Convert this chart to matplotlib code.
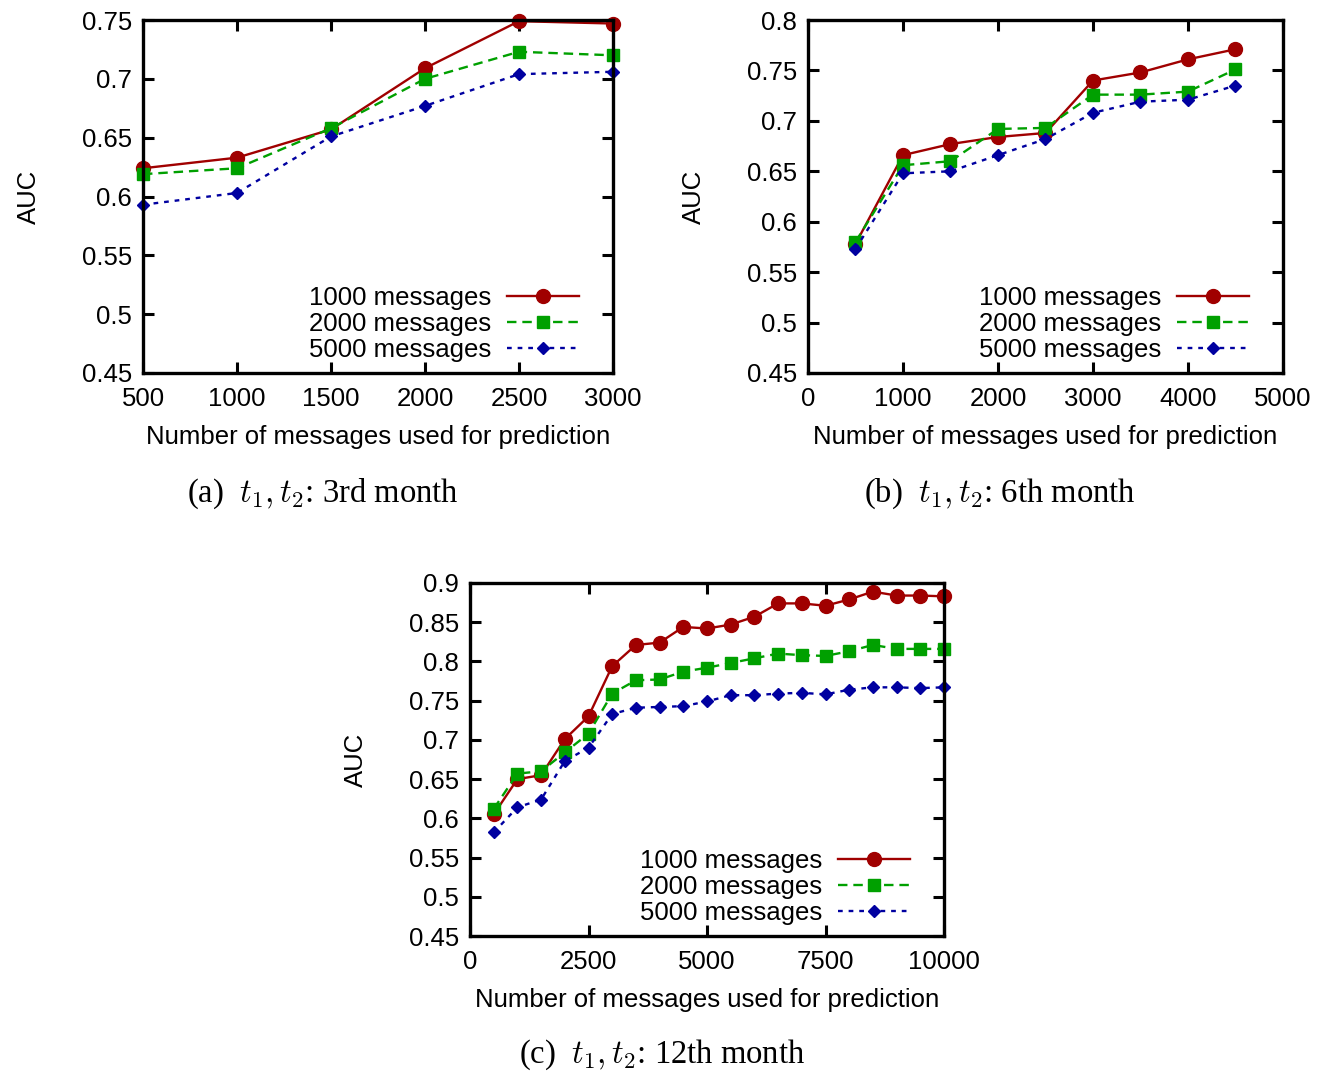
import matplotlib
matplotlib.use("Agg")
import matplotlib.pyplot as plt

plt.rcParams['font.family'] = ['Liberation Sans', 'DejaVu Sans']
plt.rcParams['mathtext.fontset'] = 'cm'

# Panel (a): t1, t2 = 3rd month
x_a = [500, 1000, 1500, 2000, 2500, 3000]
a_1000 = [0.624, 0.633, 0.657, 0.709, 0.749, 0.747]
a_2000 = [0.619, 0.624, 0.658, 0.700, 0.723, 0.720]
a_5000 = [0.593, 0.603, 0.651, 0.677, 0.704, 0.706]

# Panel (b): t1, t2 = 6th month
x_b = [500, 1000, 1500, 2000, 2500, 3000, 3500, 4000, 4500]
b_1000 = [0.578, 0.666, 0.677, 0.684, 0.688, 0.740, 0.748, 0.761, 0.771]
b_2000 = [0.580, 0.656, 0.660, 0.692, 0.693, 0.726, 0.726, 0.729, 0.751]
b_5000 = [0.573, 0.648, 0.650, 0.666, 0.682, 0.708, 0.719, 0.721, 0.735]

# Panel (c): t1, t2 = 12th month
x_c = [500, 1000, 1500, 2000, 2500, 3000, 3500, 4000, 4500, 5000,
       5500, 6000, 6500, 7000, 7500, 8000, 8500, 9000, 9500, 10000]
c_1000 = [0.605, 0.650, 0.655, 0.701, 0.730, 0.794, 0.821, 0.824, 0.844, 0.842,
          0.847, 0.857, 0.874, 0.874, 0.871, 0.879, 0.889, 0.884, 0.884, 0.883]
c_2000 = [0.612, 0.657, 0.660, 0.684, 0.708, 0.759, 0.776, 0.777, 0.787, 0.792,
          0.798, 0.804, 0.810, 0.808, 0.807, 0.813, 0.821, 0.816, 0.816, 0.816]
c_5000 = [0.582, 0.614, 0.624, 0.673, 0.690, 0.733, 0.741, 0.742, 0.743, 0.749,
          0.757, 0.757, 0.759, 0.760, 0.758, 0.764, 0.767, 0.767, 0.766, 0.767]

series_labels = ["1000 messages", "2000 messages", "5000 messages"]

yt_a = [0.45, 0.5, 0.55, 0.6, 0.65, 0.7, 0.75]
yl_a = ["0.45", "0.5", "0.55", "0.6", "0.65", "0.7", "0.75"]
yt_b = [0.45, 0.5, 0.55, 0.6, 0.65, 0.7, 0.75, 0.8]
yl_b = ["0.45", "0.5", "0.55", "0.6", "0.65", "0.7", "0.75", "0.8"]
yt_c = [0.45, 0.5, 0.55, 0.6, 0.65, 0.7, 0.75, 0.8, 0.85, 0.9]
yl_c = ["0.45", "0.5", "0.55", "0.6", "0.65", "0.7", "0.75", "0.8", "0.85", "0.9"]
xt_a = [500, 1000, 1500, 2000, 2500, 3000]
xt_b = [0, 1000, 2000, 3000, 4000, 5000]
xt_c = [0, 2500, 5000, 7500, 10000]

captions = [r"(a)  $t_1, t_2$: 3rd month",
            r"(b)  $t_1, t_2$: 6th month",
            r"(c)  $t_1, t_2$: 12th month"]

RED = '#a00000'
GREEN = '#00a000'
BLUE = '#0000a0'
FS = 18.5

fig = plt.figure(figsize=(13.26, 10.73), dpi=100)
W, H = 1326.0, 1073.0


def make_axes(left, right, top, bottom):
    return fig.add_axes([left / W, 1 - bottom / H, (right - left) / W, (bottom - top) / H])


def style_panel(ax, x, s1, s2, s3, xlim, ylim, xt, yt, yl):
    ax.plot(x, s1, color=RED, lw=1.7, ls='-', marker='o', ms=10, label=series_labels[0])
    ax.plot(x, s2, color=GREEN, lw=1.7, ls=(0, (4, 2.5)), marker='s', ms=9, label=series_labels[1])
    ax.plot(x, s3, color=BLUE, lw=1.7, ls=(0, (2, 2.5)), marker='D', ms=6.5, label=series_labels[2])
    ax.set_xlim(*xlim)
    ax.set_ylim(*ylim)
    ax.set_xticks(xt)
    ax.set_xticklabels([str(v) for v in xt])
    ax.set_yticks(yt)
    ax.set_yticklabels(yl)
    ax.tick_params(direction='in', length=8, width=2.2, top=True, right=True,
                   labelsize=FS)
    ax.tick_params(axis='x', pad=10)
    ax.tick_params(axis='y', pad=8)
    for sp in ax.spines.values():
        sp.set_linewidth(2.4)
    ax.set_xlabel("Number of messages used for prediction", fontsize=FS, labelpad=10)
    ax.set_ylabel("AUC", fontsize=FS, labelpad=29)
    ax.legend(loc='lower right', bbox_to_anchor=(0.96, -0.0135), frameon=False,
              markerfirst=False, fontsize=FS, handlelength=2.8, handletextpad=0.6,
              labelspacing=0.08, borderaxespad=0.2)
    for line in ax.get_lines():
        line.set_clip_on(False)


ax_a = make_axes(143, 613, 20, 373)
style_panel(ax_a, x_a, a_1000, a_2000, a_5000, (500, 3000), (0.45, 0.75), xt_a, yt_a, yl_a)

ax_b = make_axes(808, 1283, 20, 373)
style_panel(ax_b, x_b, b_1000, b_2000, b_5000, (0, 5000), (0.45, 0.8), xt_b, yt_b, yl_b)

ax_c = make_axes(470, 944, 583, 936)
style_panel(ax_c, x_c, c_1000, c_2000, c_5000, (0, 10000), (0.45, 0.9), xt_c, yt_c, yl_c)

cap_font = dict(family='Liberation Serif', fontsize=23.5, ha='center', va='center')
fig.text(323 / W, 1 - 494 / H, captions[0], **cap_font)
fig.text(1000 / W, 1 - 494 / H, captions[1], **cap_font)
fig.text(662 / W, 1 - 1055 / H, captions[2], **cap_font)

fig.savefig("out.png", dpi=100)
